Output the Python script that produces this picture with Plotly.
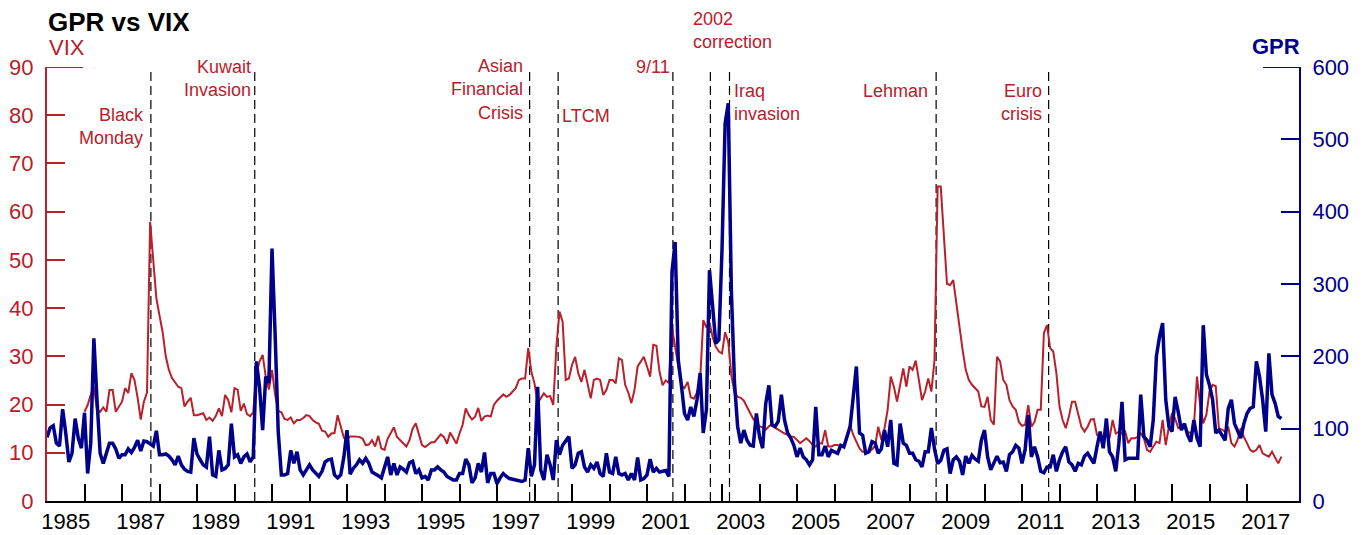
import plotly.graph_objects as go

# ---------------- data ----------------
gpr_start_year = 1985
vix_start_year = 1986

gpr_monthly = [
    88, 101, 104, 80, 76, 127, 94, 54, 66, 114, 87, 73,          # 1985
    122, 38, 80, 225, 140, 66, 52, 66, 80, 80, 72, 59,           # 1986
    64, 64, 72, 67, 74, 84, 69, 83, 82, 79, 76, 97,              # 1987
    64, 64, 65, 62, 57, 50, 62, 50, 44, 41, 40, 87,              # 1988
    65, 57, 50, 47, 89, 36, 34, 70, 43, 45, 50, 107,             # 1989
    61, 64, 52, 61, 65, 54, 61, 193, 158, 98, 172, 163,          # 1990
    349, 230, 95, 36, 36, 38, 70, 52, 68, 43, 36, 43,            # 1991
    50, 43, 38, 34, 41, 54, 57, 58, 36, 32, 36, 61,              # 1992
    98, 37, 45, 50, 57, 52, 59, 52, 40, 38, 35, 32,              # 1993
    45, 61, 36, 52, 36, 47, 44, 40, 53, 55, 38, 43,              # 1994
    32, 34, 29, 43, 43, 47, 43, 40, 34, 32, 29, 29,              # 1995
    38, 38, 58, 50, 25, 32, 52, 40, 67, 25, 38, 38,              # 1996
    24, 32, 38, 34, 31, 30, 29, 29, 27, 29, 73, 34,              # 1997
    50, 158, 43, 29, 64, 50, 29, 84, 64, 77, 84, 89,             # 1998
    45, 50, 66, 68, 47, 40, 50, 45, 54, 38, 34, 66,              # 1999
    40, 38, 61, 38, 36, 38, 29, 38, 29, 60, 29, 31,              # 2000
    36, 58, 40, 45, 40, 41, 42, 34, 317, 358, 195, 160,          # 2001
    121, 112, 130, 117, 140, 177, 94, 126, 319, 269, 218, 223,   # 2002
    347, 522, 550, 290, 163, 103, 80, 98, 84, 77, 76, 121,       # 2003
    89, 73, 135, 160, 105, 103, 110, 147, 112, 94, 87, 77,       # 2004
    61, 73, 61, 57, 50, 57, 130, 64, 64, 76, 61, 70,             # 2005
    68, 66, 77, 75, 89, 103, 144, 186, 94, 91, 66, 68,           # 2006
    82, 80, 66, 72, 98, 75, 112, 52, 50, 107, 80, 77,            # 2007
    66, 66, 57, 55, 47, 68, 68, 101, 72, 52, 56, 70,             # 2008
    72, 38, 57, 61, 55, 36, 62, 52, 63, 58, 55, 84,              # 2009
    98, 61, 43, 54, 62, 53, 54, 41, 64, 68, 77, 73,              # 2010
    52, 71, 119, 61, 75, 61, 41, 39, 47, 47, 64, 41,             # 2011
    57, 68, 75, 54, 50, 41, 52, 50, 62, 66, 59, 52,              # 2012
    75, 96, 73, 114, 68, 61, 41, 80, 137, 57, 59, 59,            # 2013
    59, 59, 147, 89, 84, 75, 112, 200, 227, 246, 140, 103,       # 2014
    96, 144, 123, 98, 107, 91, 82, 112, 87, 75, 243, 175,        # 2015
    160, 140, 94, 98, 91, 84, 128, 140, 107, 98, 87, 107,        # 2016
    121, 128, 130, 193, 172, 140, 96, 204, 147, 135, 117, 114,   # 2017
]

vix_monthly = [
    18.5, 19.9, 22.0, 23.7, 18.9, 18.5, 19.4, 18.5, 23.0, 23.0, 18.5, 19.6,   # 1986
    20.6, 23.4, 22.4, 26.5, 25.1, 21.4, 16.9, 20.6, 22.5, 57.9, 50.0, 42.0,   # 1987
    38.5, 35.0, 30.0, 27.2, 25.5, 24.7, 23.7, 23.4, 19.6, 20.6, 21.4, 17.8,   # 1988
    17.8, 18.0, 18.2, 16.8, 17.3, 16.6, 17.6, 19.2, 17.6, 22.0, 20.9, 18.4,   # 1989
    23.4, 23.1, 18.7, 20.2, 18.0, 17.6, 18.4, 26.5, 28.9, 30.3, 25.8, 23.1,   # 1990
    27.2, 22.0, 18.7, 18.4, 17.0, 16.8, 17.3, 16.1, 16.8, 16.8, 17.2, 17.8,   # 1991
    17.6, 16.8, 16.3, 16.0, 14.6, 14.4, 13.3, 14.0, 14.1, 17.8, 15.6, 13.1,   # 1992
    12.8, 13.4, 13.4, 13.3, 13.3, 12.9, 11.6, 11.7, 12.6, 11.3, 13.5, 10.9,   # 1993
    10.6, 12.9, 14.0, 15.3, 13.3, 12.6, 11.9, 11.3, 12.6, 15.0, 16.1, 14.0,   # 1994
    11.6, 11.2, 11.7, 12.2, 12.2, 12.9, 13.8, 13.3, 11.9, 14.2, 12.9, 11.9,   # 1995
    14.0, 15.8, 19.2, 17.8, 16.9, 17.5, 19.3, 16.6, 17.5, 17.7, 17.5, 19.9,   # 1996
    20.8, 21.5, 22.1, 21.6, 22.0, 22.7, 23.4, 25.1, 25.4, 25.4, 31.7, 26.8,   # 1997
    24.4, 20.3, 21.3, 22.3, 21.6, 21.8, 19.9, 32.0, 39.3, 37.2, 25.1, 25.4,   # 1998
    28.2, 29.9, 26.5, 24.7, 27.2, 24.1, 21.3, 25.1, 25.4, 25.1, 22.0, 23.0,   # 1999
    25.1, 25.1, 24.4, 29.6, 29.2, 24.1, 22.5, 20.3, 23.0, 27.9, 28.9, 29.9,   # 2000
    27.9, 25.8, 32.4, 32.2, 26.8, 24.0, 25.0, 24.5, 36.0, 32.0, 27.5, 24.0,   # 2001
    23.4, 24.7, 21.5, 21.2, 22.5, 25.0, 37.5, 36.0, 37.0, 34.0, 32.0, 31.0,   # 2002
    30.6, 35.0, 33.0, 26.0, 22.5, 21.6, 21.4, 20.8, 19.5, 18.2, 17.0, 16.1,   # 2003
    15.5, 15.2, 14.8, 15.5, 16.0, 15.2, 14.8, 14.5, 14.0, 13.8, 13.4, 13.3,   # 2004
    12.7, 12.0, 12.5, 13.0, 12.4, 11.6, 11.3, 12.0, 11.9, 14.7, 11.3, 11.3,   # 2005
    11.6, 11.6, 11.3, 11.6, 13.3, 15.8, 13.7, 12.3, 10.9, 10.2, 10.2, 10.2,   # 2006
    10.7, 11.4, 15.4, 12.7, 15.1, 18.9, 25.8, 23.7, 20.6, 24.4, 27.5, 23.7,   # 2007
    27.9, 27.2, 29.1, 25.1, 20.9, 22.7, 25.4, 22.7, 29.2, 65.2, 65.2, 55.0,   # 2008
    45.0, 44.8, 45.8, 41.0, 35.5, 31.3, 27.2, 25.1, 24.1, 23.5, 22.7, 19.6,   # 2009
    19.5, 21.6, 16.8, 15.8, 29.9, 28.9, 25.1, 24.1, 20.9, 19.6, 18.9, 16.4,   # 2010
    15.6, 15.8, 19.9, 15.4, 16.4, 18.9, 18.9, 34.8, 36.5, 31.7, 31.0, 26.5,   # 2011
    19.6, 16.8, 15.1, 17.5, 20.6, 20.6, 17.8, 15.4, 14.4, 15.4, 16.9, 17.0,   # 2012
    13.7, 13.3, 12.7, 13.7, 13.0, 16.8, 14.0, 14.4, 14.0, 14.4, 12.0, 13.0,   # 2013
    13.0, 13.3, 14.0, 13.0, 10.6, 10.2, 11.3, 12.3, 12.0, 16.8, 11.6, 15.4,   # 2014
    18.2, 17.1, 15.1, 15.4, 15.4, 14.4, 14.0, 15.4, 25.8, 20.0, 16.1, 17.9,   # 2015
    22.7, 24.1, 23.8, 15.1, 14.8, 14.4, 15.4, 12.0, 11.3, 12.7, 15.1, 13.3,   # 2016
    12.0, 10.6, 10.2, 10.6, 11.6, 9.9, 9.5, 9.2, 10.2, 8.9, 7.8, 9.2,         # 2017
]

tick_years = list(range(1985, 2018))
label_years = list(range(1985, 2018, 2))
vix_ticks = list(range(0, 91, 10))
gpr_ticks = list(range(0, 601, 100))

event_labels = ["Black<br>Monday", "Kuwait<br>Invasion", "Asian<br>Financial<br>Crisis",
                "LTCM", "9/11", "2002<br>correction", "Iraq<br>invasion",
                "Lehman", "Euro<br>crisis"]
event_dates = [1987.77, 1990.54, 1997.87, 1998.63, 2001.69, 2002.69, 2003.20,
               2008.71, 2011.71]

# ---------------- style ----------------
RED = "#B8202A"
BLUE = "#00008B"
FONT = "Liberation Sans, Arial, sans-serif"
PAGE_OFF = 8                      # default body margin of the html page
W, H = 1354, 527
ML, MR, MT, MB = 39, 63, 59, 34
PLOT_H = H - MT - MB
PLOT_W = W - ML - MR


def py(ypix):
    """screen pixel row -> paper y"""
    return (H - MB - (ypix - PAGE_OFF)) / PLOT_H


# label placement: (anchor side, centre screen row, x shift)
event_place = [
    ("right", 126.6, -5), ("right", 78.3, -2), ("right", 89.6, -5),
    ("left", 115.5, 2), ("right", 66.6, -1), ("left", 30.8, -19),
    ("left", 102, 2), ("right", 90.5, -6), ("right", 102, -5),
]

gpr_x = [gpr_start_year + i / 12 for i in range(len(gpr_monthly))]
vix_x = [vix_start_year + i / 12 for i in range(len(vix_monthly))]

x_range = [1985, 1985 + PLOT_W / 37.5]

fig = go.Figure()
fig.add_trace(go.Scatter(x=vix_x, y=vix_monthly, mode="lines", name="VIX",
                         line=dict(color=RED, width=2), xaxis="x", yaxis="y",
                         hoverinfo="skip"))
fig.add_trace(go.Scatter(x=gpr_x, y=gpr_monthly, mode="lines", name="GPR",
                         line=dict(color=BLUE, width=3.5), xaxis="x2", yaxis="y2",
                         hoverinfo="skip"))

shapes = []
for d in event_dates:
    shapes.append(dict(type="line", xref="x", yref="paper", x0=d, x1=d, y0=0, y1=1,
                       line=dict(color="black", width=1.2, dash="9px,5px"), layer="below"))
cap = 36 / PLOT_W
shapes.append(dict(type="line", xref="paper", yref="y", x0=0, x1=cap, y0=90, y1=90,
                   line=dict(color=RED, width=2)))
shapes.append(dict(type="line", xref="paper", yref="y2", x0=1 - cap, x1=1, y0=600, y1=600,
                   line=dict(color=BLUE, width=2)))

annotations = [
    dict(text="<b>GPR vs VIX</b>", xref="paper", yref="paper", x=0, y=py(22),
         xanchor="left", yanchor="middle", showarrow=False, borderpad=0,
         font=dict(family=FONT, size=26, color="black")),
    dict(text="VIX", xref="paper", yref="paper", x=0, y=py(47.3),
         xanchor="left", yanchor="middle", showarrow=False,
         font=dict(family=FONT, size=22, color=RED)),
    dict(text="<b>GPR</b>", xref="paper", yref="paper", x=1, y=py(46.6),
         xanchor="right", yanchor="middle", xshift=3, showarrow=False,
         font=dict(family=FONT, size=22, color=BLUE)),
]
for lab, d, (side, ypix, dx) in zip(event_labels, event_dates, event_place):
    annotations.append(dict(text=lab, xref="x", yref="paper", x=d, y=py(ypix),
                            xanchor=side, yanchor="middle", align=side, xshift=dx,
                            showarrow=False,
                            font=dict(family=FONT, size=18, color=RED)))

fig.update_layout(
    width=W, height=H, autosize=False,
    margin=dict(l=ML, r=MR, t=MT, b=MB, pad=0, autoexpand=False),
    paper_bgcolor="white", plot_bgcolor="white",
    showlegend=False,
    font=dict(family=FONT),
    xaxis=dict(domain=[0, 1], range=x_range, tickmode="array", tickvals=tick_years,
               showticklabels=False, ticks="inside", ticklen=17, tickwidth=2,
               tickcolor="black", showline=True, linecolor="black", linewidth=2,
               showgrid=False, zeroline=False, fixedrange=True, automargin=False),
    xaxis2=dict(overlaying="x", anchor="y", side="bottom", range=x_range,
                tickmode="array", tickvals=[y + 0.5 for y in label_years],
                ticktext=[str(y) for y in label_years], ticks="",
                tickfont=dict(family=FONT, size=22, color="black"),
                ticklabelstandoff=5, automargin=False,
                showline=False, showgrid=False, zeroline=False, fixedrange=True),
    yaxis=dict(range=[0, 90], tickmode="array", tickvals=vix_ticks,
               ticks="inside", ticklen=18, tickwidth=2, tickcolor=RED,
               showline=True, linecolor=RED, linewidth=2,
               tickfont=dict(family=FONT, size=22, color=RED),
               ticklabelstandoff=7, automargin=False,
               showgrid=False, zeroline=False, fixedrange=True),
    yaxis2=dict(overlaying="y", anchor="x2", side="right", range=[0, 600],
                tickmode="array", tickvals=gpr_ticks,
                ticks="inside", ticklen=18, tickwidth=2, tickcolor=BLUE,
                showline=True, linecolor=BLUE, linewidth=2,
                tickfont=dict(family=FONT, size=22, color=BLUE),
                ticklabelstandoff=7, automargin=False,
                showgrid=False, zeroline=False, fixedrange=True),
    shapes=shapes,
    annotations=annotations,
)

fig.write_html("out.html")
